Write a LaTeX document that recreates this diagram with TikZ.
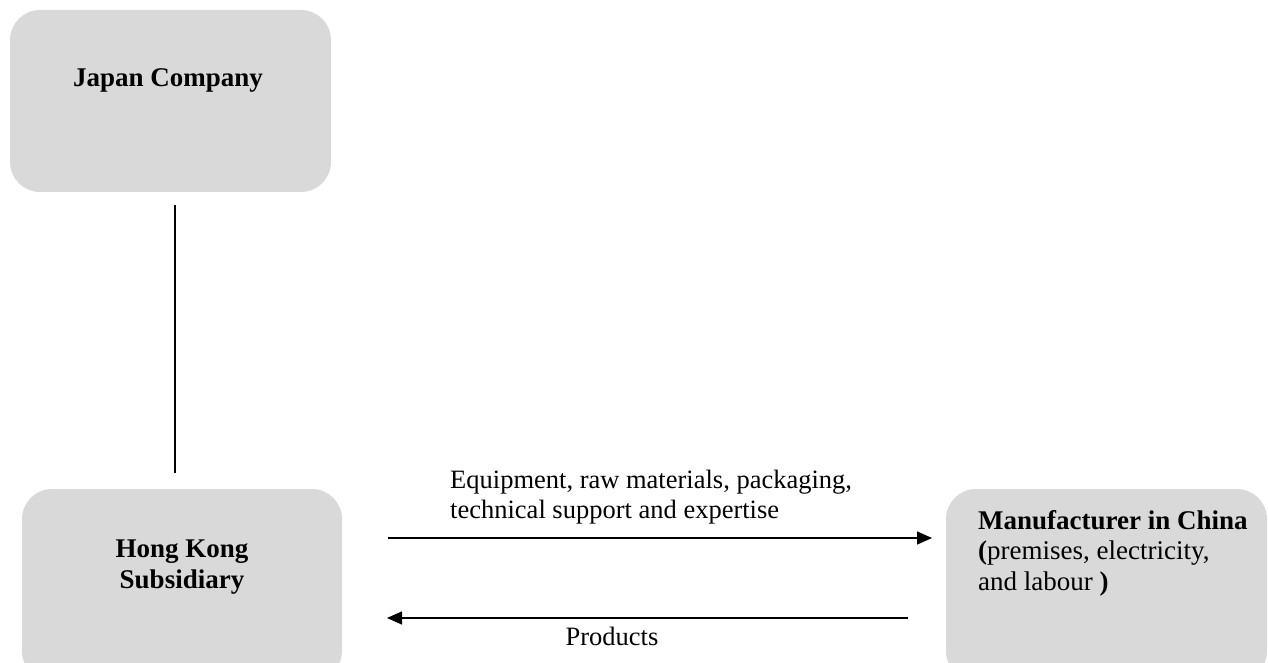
\documentclass[tikz,border=0pt]{standalone}
\usepackage{fontspec}
\setmainfont{Liberation Serif}
\usetikzlibrary{arrows.meta}
\definecolor{boxgray}{HTML}{D9D9D9}
\begin{document}
\begin{tikzpicture}[x=1pt,y=-1pt,
  box/.style={draw=none,fill=boxgray,rounded corners=30pt,inner sep=0pt},
  lbl/.style={inner sep=0pt,font=\fontsize{26.5}{30}\selectfont},
  conn/.style={line width=1.5pt},
  arr/.style={line width=1.5pt,-{Triangle[length=15pt,width=13pt]}}]
\useasboundingbox (0,0) rectangle (1268,663);
\begin{scope}
\clip (0,0) rectangle (1268,663);
\node[box,minimum width=321pt,minimum height=182pt] (jp) at (170.5,101) {};
\node[box,minimum width=320pt,minimum height=192pt] (hk) at (182,585) {};
\node[box,minimum width=321pt,minimum height=192pt] (mf) at (1106.5,585) {};
\end{scope}
\node[lbl,font=\fontsize{27}{30}\selectfont\bfseries] (jpt) at (168,80) {Japan Company};
\node[lbl,align=center,font=\fontsize{27}{31}\selectfont\bfseries] (hkt) at (182,567) {Hong Kong\\Subsidiary};
\node[lbl,align=left,anchor=west,font=\fontsize{27}{30.5}\selectfont] (mft) at (978,553) {\textbf{Manufacturer in China}\\\textbf{(}premises, electricity,\\and labour \textbf{)}};
\coordinate (v1) at (175,205);
\coordinate (v2) at (175,473);
\draw[conn] (v1) -- (v2);
\coordinate (a1s) at (388,538);
\coordinate (a1e) at (932,538);
\coordinate (a2s) at (908,618);
\coordinate (a2e) at (387,618);
\draw[arr] (a1s) -- (a1e);
\draw[arr] (a2s) -- (a2e);
\node[lbl,align=left,anchor=west] (eq) at (450,497) {Equipment, raw materials, packaging,\\technical support and expertise};
\node[lbl] (pr) at (612,636) {Products};
\end{tikzpicture}
\end{document}
